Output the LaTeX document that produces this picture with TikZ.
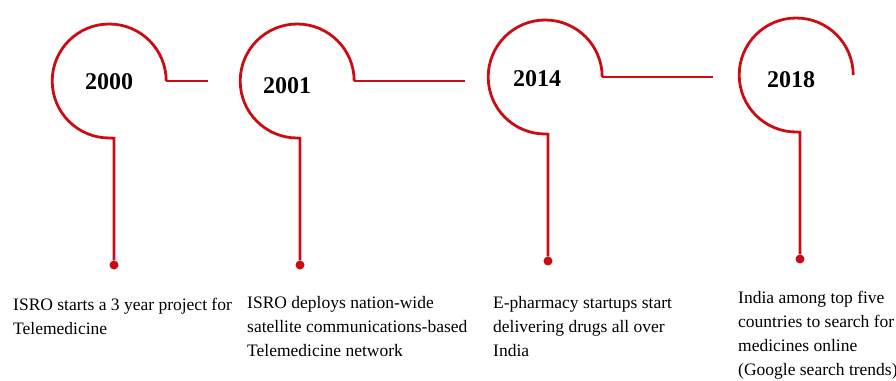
\documentclass[tikz,border=0pt]{standalone}
\usepackage{fontspec}
\setmainfont{Liberation Serif}
\definecolor{tlred}{RGB}{204,12,20}
\begin{document}
\begin{tikzpicture}[x=1pt,y=-1pt,
  tl/.style={draw=tlred,line width=2.8pt},
  ring/.style={circle,minimum size=114pt,inner sep=0pt},
  dot/.style={circle,fill=tlred,inner sep=0pt,minimum size=9pt},
  yr/.style={font=\fontsize{24}{28}\selectfont\bfseries},
  note/.style={font=\fontsize{17.5}{24}\selectfont,align=left,anchor=north west,inner sep=0pt}]
\useasboundingbox (0,0) rectangle (896,380);
% milestone rings, year labels and drop lines to the dots
\foreach \n/\cx/\cy/\tx/\ty/\dx/\dy/\yr in {1/109/81/109/82/114/265/2000, 2/297/81/287/86/300/265/2001, 3/545/77/537/79/548/261/2014, 4/796/75/791/80/800/259/2018} {
  \node[ring] (m\n) at (\cx,\cy) {};
  \node[yr] (y\n) at (\tx,\ty) {\yr};
  \node[dot] (d\n) at (\dx,\dy) {};
  \draw[tl] (m\n.east) arc[start angle=0,end angle=-270,radius=57] -- (m\n.south -| d\n) -- (d\n);
}
% short links after the first three rings
\coordinate (h1) at (208,81);
\coordinate (h2) at (465,81);
\coordinate (h3) at (713,77);
\foreach \n in {1,2,3} {\draw[tl] (m\n.east) -- (h\n);}
% event descriptions
\node[note] (e1) at (13,298) {ISRO starts a 3 year project for\\Telemedicine};
\node[note] (e2) at (247,296) {ISRO deploys nation-wide\\satellite communications-based\\Telemedicine network};
\node[note] (e3) at (493,296) {E-pharmacy startups start\\delivering drugs all over\\India};
\node[note] (e4) at (738,291) {India among top five\\countries to search for\\medicines online\\(Google search trends)};
\end{tikzpicture}
\end{document}
